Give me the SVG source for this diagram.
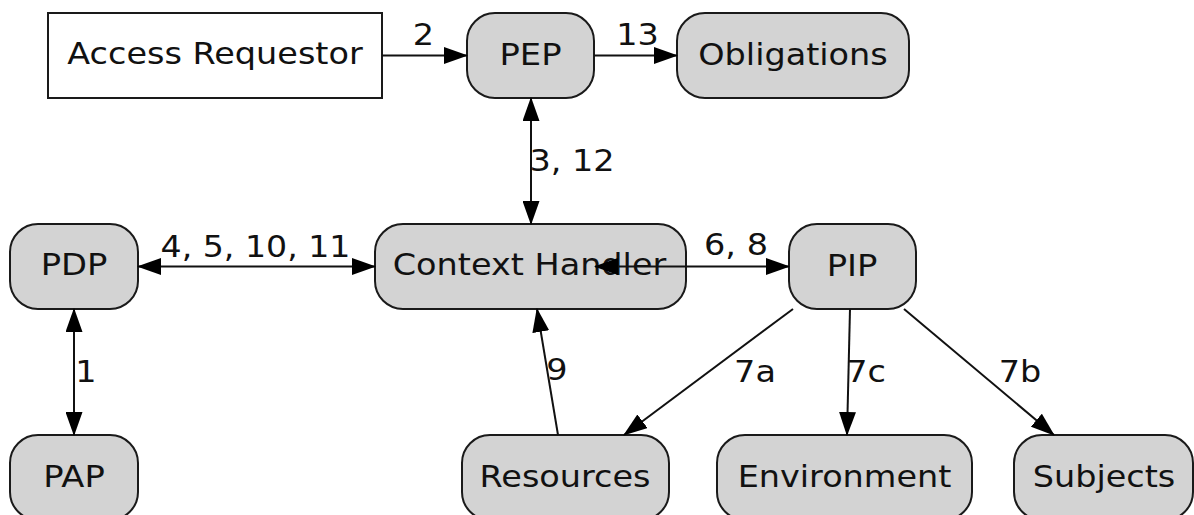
<svg xmlns="http://www.w3.org/2000/svg" width="1194" height="515" viewBox="0 0 1194 515">
  <style>
    .node { fill: #d3d3d3; stroke: #1a1a1a; stroke-width: 2; }
    .plain { fill: #ffffff; stroke: #1a1a1a; stroke-width: 2; }
    .label { font-family: "DejaVu Sans", "Noto Sans", sans-serif; font-size: 31px; fill: #111111; text-anchor: middle; }
    .edge { fill: none; stroke: #111111; stroke-width: 2; }
    .one { marker-end: url(#head); }
    .both { marker-start: url(#head); marker-end: url(#head); }
  </style>
  <defs>
    <marker id="head" markerUnits="userSpaceOnUse" markerWidth="24" markerHeight="17" refX="23" refY="8.5" orient="auto-start-reverse" viewBox="0 0 24 17">
      <path d="M0,0 L24,8.5 L0,17 z" fill="#000000"/>
    </marker>
  </defs>

  <g id="access-requestor">
    <rect class="plain" x="48" y="13" width="334" height="85"/>
    <text class="label" transform="translate(215,64) scale(1.08,1)">Access Requestor</text>
  </g>
  <g id="pep">
    <rect class="node" x="467" y="13" width="127" height="85" rx="28" ry="28"/>
    <text class="label" transform="translate(530.5,65) scale(1.09,1)">PEP</text>
  </g>
  <g id="obligations">
    <rect class="node" x="677" y="13" width="232" height="85" rx="28" ry="28"/>
    <text class="label" transform="translate(793,65) scale(1.08,1)">Obligations</text>
  </g>
  <g id="pdp">
    <rect class="node" x="10" y="224" width="128" height="85" rx="28" ry="28"/>
    <text class="label" transform="translate(74,275) scale(1.09,1)">PDP</text>
  </g>
  <g id="context-handler">
    <rect class="node" x="375" y="224" width="311" height="85" rx="28" ry="28"/>
    <text class="label" transform="translate(529.5,275) scale(1.08,1)">Context Handler</text>
  </g>
  <g id="pip">
    <rect class="node" x="789" y="224" width="127" height="85" rx="28" ry="28"/>
    <text class="label" transform="translate(852,276) scale(1.09,1)">PIP</text>
  </g>
  <g id="pap">
    <rect class="node" x="10" y="435" width="128" height="85" rx="28" ry="28"/>
    <text class="label" transform="translate(74,487) scale(1.09,1)">PAP</text>
  </g>
  <g id="resources">
    <rect class="node" x="462" y="435" width="207" height="85" rx="28" ry="28"/>
    <text class="label" transform="translate(565,487) scale(1.08,1)">Resources</text>
  </g>
  <g id="environment">
    <rect class="node" x="717" y="435" width="255" height="85" rx="28" ry="28"/>
    <text class="label" transform="translate(844.5,487) scale(1.08,1)">Environment</text>
  </g>
  <g id="subjects">
    <rect class="node" x="1014" y="435" width="179" height="85" rx="28" ry="28"/>
    <text class="label" transform="translate(1104,487) scale(1.08,1)">Subjects</text>
  </g>

  <!-- connectors drawn last: the 6, 8 edge runs into the Context Handler box -->
  <g id="connectors">
    <path class="edge one" d="M382,55.5 L467,55.5"/>
    <path class="edge one" d="M594,55.5 L677,55.5"/>
    <path class="edge both" d="M531,98 L531,224"/>
    <path class="edge both" d="M138,266.5 L375,266.5"/>
    <path class="edge both" d="M595,266.5 L789,266.5"/>
    <path class="edge both" d="M74,309 L74,435"/>
    <path class="edge one" d="M558,435 L537,309"/>
    <path class="edge one" d="M793,309 L624,435"/>
    <path class="edge one" d="M850,309 L847,435"/>
    <path class="edge one" d="M904,309 L1054,435"/>

    <text class="label" transform="translate(423.5,45) scale(1.08,1)">2</text>
    <text class="label" transform="translate(637.5,45) scale(1.08,1)">13</text>
    <text class="label" transform="translate(572,171) scale(1.08,1)">3, 12</text>
    <text class="label" transform="translate(255.5,257) scale(1.07,1)">4, 5, 10, 11</text>
    <text class="label" transform="translate(736,255) scale(1.08,1)">6, 8</text>
    <text class="label" transform="translate(86,382) scale(1.08,1)">1</text>
    <text class="label" transform="translate(557,380) scale(1.08,1)">9</text>
    <text class="label" transform="translate(755,382) scale(1.08,1)">7a</text>
    <text class="label" transform="translate(866,382) scale(1.08,1)">7c</text>
    <text class="label" transform="translate(1020,382) scale(1.08,1)">7b</text>
  </g>
</svg>
